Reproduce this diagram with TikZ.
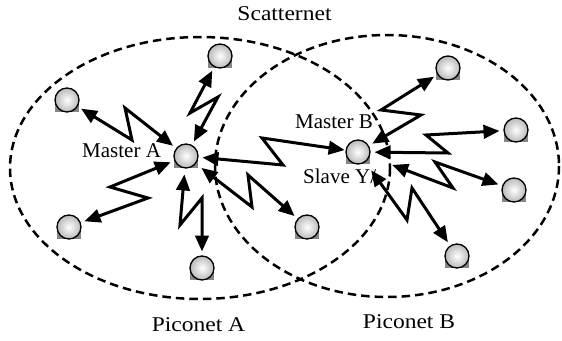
\documentclass[tikz,border=0pt]{standalone}
\usepackage{fontspec}
\setmainfont{Liberation Serif}
\usetikzlibrary{arrows.meta,calc}
\tikzset{
  piconet/.style={line width=2.5pt, dash pattern=on 8.5pt off 5pt},
  dev/.style={circle, minimum size=24pt, inner sep=0pt, outer sep=4.5pt, draw=black, line width=1.3pt, shading=radial, inner color=white, outer color=gray!55},
  shadowbox/.style={fill=gray!95!white},
  link/.style={line width=3pt, line join=miter, {Triangle[length=16pt,width=13.5pt]}-{Triangle[length=16pt,width=13.5pt]}},
  lbl/.style={font=\fontsize{21}{25}\selectfont, inner sep=0pt},
  biglbl/.style={font=\fontsize{21}{25}\selectfont, inner sep=0pt, xscale=1.12}
}
\newcommand\devnode[3]{%
  \fill[shadowbox] (#2-12,#3+2) rectangle (#2+12,#3+12);
  \node[dev] (#1) at (#2,#3) {};}
\begin{document}
\begin{tikzpicture}[x=1pt,y=-1pt]
\useasboundingbox (0,0) rectangle (562,340);
% piconets
\draw[piconet] (200,168) ellipse [x radius=190, y radius=131];
\draw[piconet] (387,166) ellipse [x radius=172, y radius=131];
% devices
\devnode{mA}{186}{156}
\devnode{a1}{220}{56}
\devnode{a2}{67}{100}
\devnode{a3}{69}{227}
\devnode{a4}{202}{268}
\devnode{a5}{307}{227}
\devnode{mB}{358}{152}
\devnode{b1}{448}{68}
\devnode{b2}{516}{130}
\devnode{b3}{514}{190}
\devnode{b4}{457}{256}
% links
\draw[link] (mA) -- (218,97) -- (190,113) -- (a1);
\draw[link] (mA) -- (125,108) -- (132,140) -- (a2);
\draw[link] (mA) -- (110,187) -- (148,198) -- (a3);
\draw[link, shorten <=2pt] (mA) -- (180,225) -- (202,198) -- (a4);
\draw[link, shorten <=3pt] (mA) -- (252,207) -- (248,175) -- (a5);
\draw[link, shorten >=-3pt] (mA) -- (283,165) -- (262,138) -- (mB);
\draw[link] (mB) -- (421,115) -- (381,110) -- (b1);
\draw[link] (mB) -- (448,153) -- (426,135) -- (b2);
\draw[link, shorten <=20pt] (mB) -- (453,188) -- (435,162) -- (b3);
\draw[link, shorten <=6pt] (mB) -- (407,220) -- (412,188) -- (b4);
% labels
\node[biglbl, anchor=base] (scat) at (284.5,20.5) {Scatternet};
\node[biglbl, anchor=base] (pA) at (198.5,331.5) {Piconet A};
\node[biglbl, anchor=base] (pB) at (409,328.3) {Piconet B};
\node[lbl, anchor=base west] (tA) at (82,157) {Master A};
\node[lbl, anchor=base west] (tB) at (295,128) {Master B};
\node[lbl, anchor=base west] (tY) at (303,183) {Slave Y/};
\end{tikzpicture}
\end{document}
